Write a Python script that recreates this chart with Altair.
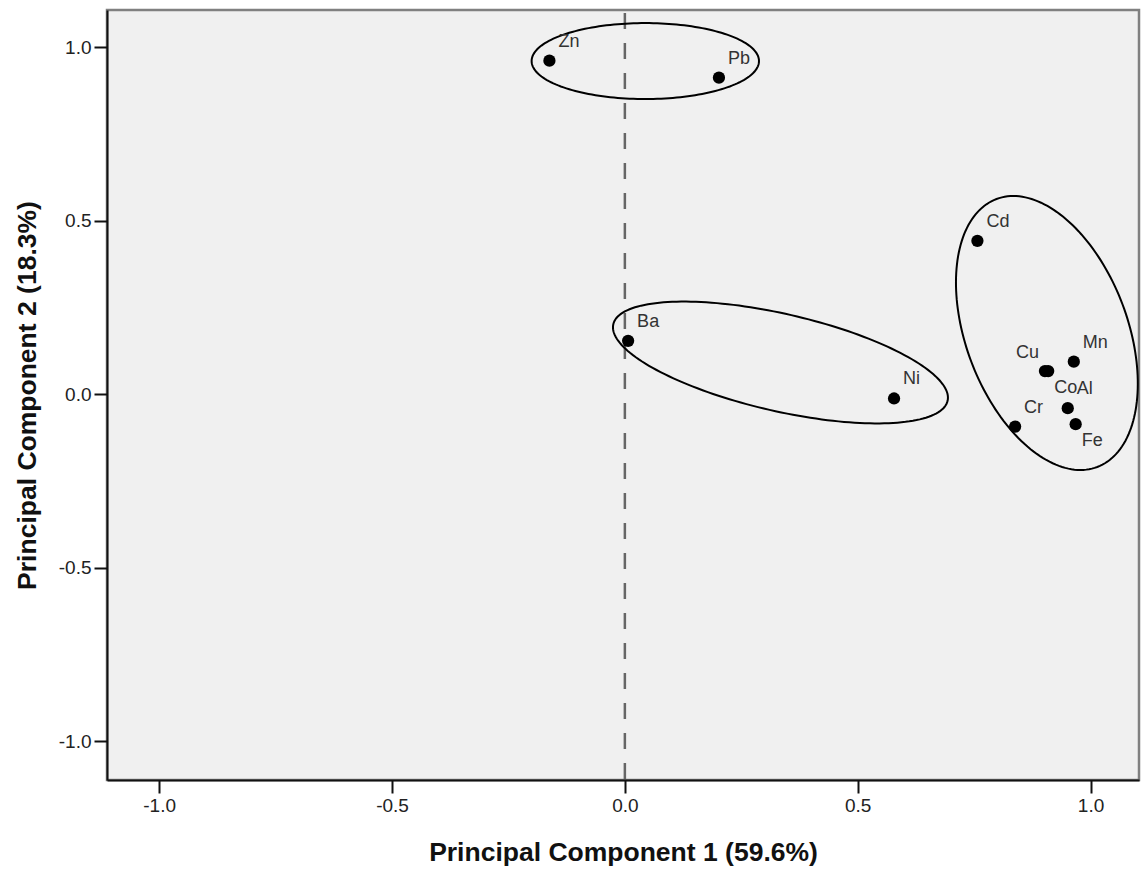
import altair as alt
import numpy as np
import pandas as pd

# Component loadings of each element
elements = ["Zn", "Pb", "Cd", "Ba", "Ni", "Cu", "Co", "Mn", "Al", "Fe", "Cr"]
pc1 = [-0.162, 0.202, 0.757, 0.007, 0.578, 0.902, 0.909, 0.964, 0.951, 0.968, 0.838]
pc2 = [0.961, 0.912, 0.442, 0.154, -0.012, 0.067, 0.067, 0.094, -0.040, -0.086, -0.093]

# Where each label sits relative to its point (default: upper right)
label_side = {"Cu": "upper-left", "Co": "lower-right", "Fe": "lower-right"}

# Grouping ellipses: centre plus two conjugate semi-axis vectors (data units)
groups = ["Zn-Pb", "Ba-Ni", "Cd-Al-Fe"]
centre_pc1 = [0.0439, 0.3341, 0.9062]
centre_pc2 = [0.960, 0.0916, 0.1766]
semi_u = [(0.2441, 0.0), (0.3589, -0.1103), (0.1082, -0.3859)]
semi_v = [(0.0, 0.1094), (-0.0233, -0.1365), (0.1625, 0.0821)]

x_domain = [-1.112, 1.104]
y_domain = [-1.111, 1.107]
ticks = [-1.0, -0.5, 0.0, 0.5, 1.0]

FONT = "Liberation Sans"

points = pd.DataFrame({
    "element": elements,
    "pc1": pc1,
    "pc2": pc2,
    "side": [label_side.get(e, "upper-right") for e in elements],
})

# Outline of each ellipse
t = np.linspace(0, 2 * np.pi, 181)
rows = []
for g, cx, cy, u, v in zip(groups, centre_pc1, centre_pc2, semi_u, semi_v):
    for i, a in enumerate(t):
        rows.append({
            "group": g,
            "i": i,
            "pc1": cx + u[0] * np.cos(a) + v[0] * np.sin(a),
            "pc2": cy + u[1] * np.cos(a) + v[1] * np.sin(a),
        })
outlines = pd.DataFrame(rows)

label_expr = "replace(format(datum.value, '.1f'), '\u2212', '-')"

x_enc = alt.X(
    "pc1:Q",
    scale=alt.Scale(domain=x_domain, nice=False, zero=False),
    axis=alt.Axis(
        values=ticks, labelExpr=label_expr, grid=False,
        labelFont=FONT, labelFontSize=19, labelColor="#222", labelPadding=3,
        labelFlush=False,
        tickSize=13, tickWidth=2, tickColor="#111",
        domainColor="#111", domainWidth=2,
        title="Principal Component 1 (59.6%)",
        titleFont=FONT, titleFontSize=26.5, titleFontWeight="bold", titleColor="#111",
        titleY=80, titleBaseline="alphabetic",
    ),
)
y_enc = alt.Y(
    "pc2:Q",
    scale=alt.Scale(domain=y_domain, nice=False, zero=False),
    axis=alt.Axis(
        values=ticks, labelExpr=label_expr, grid=False,
        labelFont=FONT, labelFontSize=19, labelColor="#222", labelPadding=3,
        labelFlush=False,
        tickSize=13, tickWidth=2, tickColor="#111",
        domainColor="#111", domainWidth=2,
        title="Principal Component 2 (18.3%)",
        titleFont=FONT, titleFontSize=26.5, titleFontWeight="bold", titleColor="#111",
        titleAngle=-90, titleX=-80, titleY=385,
        titleBaseline="middle", titleAlign="center",
    ),
)

zero_line = alt.Chart(pd.DataFrame({"pc1": [0.0]})).mark_rule(
    color="#666666", strokeWidth=2.5, strokeDash=[16, 14], strokeDashOffset=-3
).encode(x=alt.X("pc1:Q", scale=alt.Scale(domain=x_domain, nice=False, zero=False)))

ellipses = alt.Chart(outlines).mark_line(
    color="black", strokeWidth=2, clip=True
).encode(x=x_enc, y=y_enc, detail="group:N", order="i:Q")

dots = alt.Chart(points).mark_circle(
    size=150, color="black", opacity=1
).encode(x=x_enc, y=y_enc)

base_text = alt.Chart(points)
text_style = dict(font=FONT, fontSize=18, color="#333", baseline="middle")
labels_ur = base_text.transform_filter(alt.datum.side == "upper-right").mark_text(
    align="left", dx=9, dy=-19, **text_style
).encode(x=x_enc, y=y_enc, text="element:N")
labels_ul = base_text.transform_filter(alt.datum.side == "upper-left").mark_text(
    align="right", dx=-6, dy=-18, **text_style
).encode(x=x_enc, y=y_enc, text="element:N")
labels_lr = base_text.transform_filter(alt.datum.side == "lower-right").mark_text(
    align="left", dx=6, dy=17, **text_style
).encode(x=x_enc, y=y_enc, text="element:N")

chart = alt.layer(
    zero_line, ellipses, dots, labels_ur, labels_ul, labels_lr
).properties(
    width=1032,
    height=770,
    padding={"left": 107, "top": 10, "right": 2, "bottom": 91},
    autosize=alt.AutoSizeParams(type="none"),
    background="white",
).configure_view(
    fill="#f0f0f0", stroke="#808080", strokeWidth=2.5
)

chart.save("out.html", embed_options={"renderer": "svg", "actions": False})
